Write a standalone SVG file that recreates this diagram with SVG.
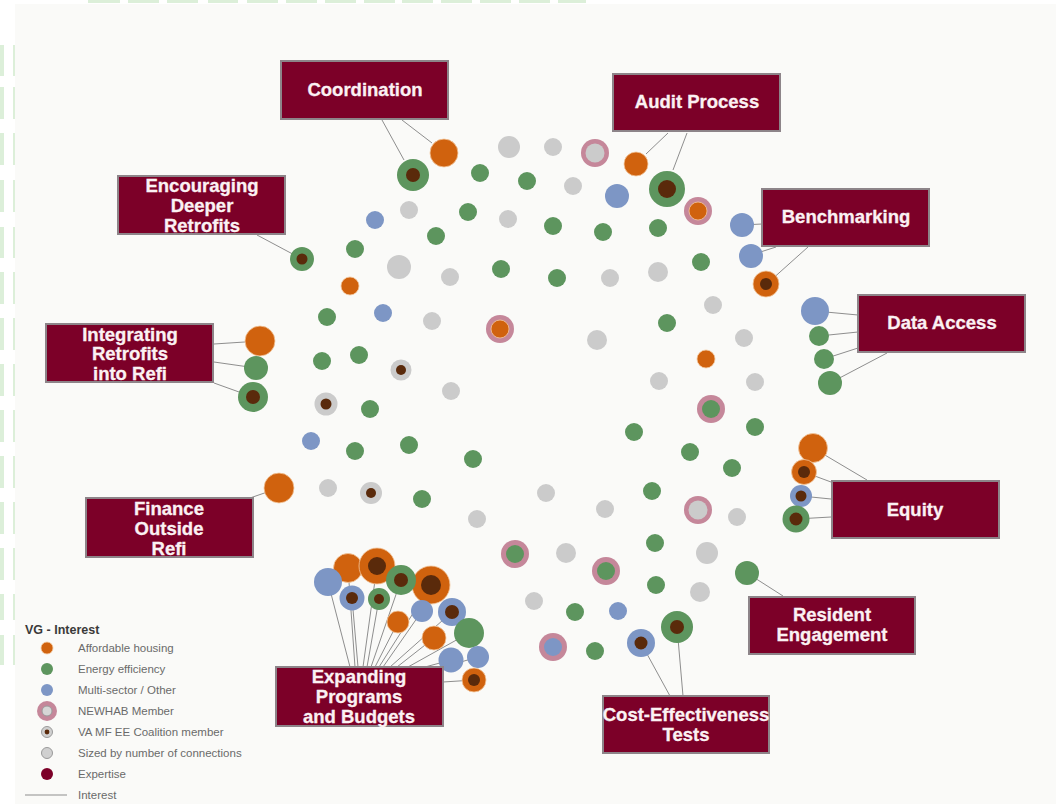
<svg xmlns="http://www.w3.org/2000/svg" width="1056" height="804" viewBox="0 0 1056 804">
<style>
.o{fill:#d0620e;stroke:#f3c79d;stroke-width:0.8}
.g{fill:#5d955e}
.b{fill:#7d96c5}
.y{fill:#cbcbcb}
.p{fill:#c5879a}
.d{fill:#5a2a0b}
.box{fill:#7c0028;stroke:#8d8489;stroke-width:2}
.lbl{font-family:"Liberation Sans",Arial,sans-serif;font-weight:bold;font-size:18.5px;fill:#fbf1f3;stroke:#fbf1f3;stroke-width:0.3;text-anchor:middle}
.ln{stroke:#8e8e8e;stroke-width:1;fill:none}
.lg{font-family:"Liberation Sans",Arial,sans-serif;font-size:11.5px;fill:#6a6a6a}
.lgt{font-family:"Liberation Sans",Arial,sans-serif;font-size:12.5px;font-weight:bold;fill:#3a3a3a}
.dash{fill:#dcefd9}
</style>
<rect x="0" y="0" width="1056" height="804" fill="#ffffff"/>
<g id="frame">
<rect x="15" y="4" width="1041" height="800" fill="#fafaf8"/>
<g class="dash">
<rect x="88" y="0" width="32" height="3"/><rect x="128" y="0" width="31" height="3"/><rect x="167" y="0" width="31" height="3"/><rect x="208" y="0" width="30" height="3"/><rect x="247" y="0" width="31" height="3"/><rect x="286" y="0" width="31" height="3"/><rect x="325" y="0" width="31" height="3"/><rect x="364" y="0" width="31" height="3"/><rect x="402" y="0" width="31" height="3"/><rect x="441" y="0" width="31" height="3"/><rect x="480" y="0" width="31" height="3"/><rect x="519" y="0" width="31" height="3"/><rect x="558" y="0" width="28" height="3"/>
<rect x="0" y="45" width="4" height="31"/><rect x="0" y="87" width="4" height="32"/><rect x="0" y="133" width="4" height="32"/><rect x="0" y="180" width="4" height="32"/><rect x="0" y="227" width="4" height="31"/><rect x="0" y="272" width="4" height="32"/><rect x="0" y="318" width="4" height="32"/><rect x="0" y="364" width="4" height="32"/><rect x="0" y="410" width="4" height="32"/><rect x="0" y="456" width="4" height="32"/><rect x="0" y="502" width="4" height="32"/><rect x="0" y="548" width="4" height="32"/><rect x="0" y="594" width="4" height="26"/><rect x="0" y="635" width="4" height="30"/>
<rect x="13" y="45" width="2" height="31"/><rect x="13" y="87" width="2" height="32"/><rect x="13" y="133" width="2" height="32"/><rect x="13" y="180" width="2" height="32"/><rect x="13" y="227" width="2" height="31"/><rect x="13" y="272" width="2" height="32"/><rect x="13" y="318" width="2" height="32"/><rect x="13" y="364" width="2" height="32"/><rect x="13" y="410" width="2" height="32"/><rect x="13" y="456" width="2" height="32"/><rect x="13" y="502" width="2" height="32"/><rect x="13" y="548" width="2" height="32"/><rect x="13" y="594" width="2" height="26"/><rect x="13" y="635" width="2" height="30"/>
</g>
</g>
<g id="connectors" class="ln">
<line x1="404" y1="160" x2="382" y2="120"/>
<line x1="432" y1="143" x2="402" y2="120"/>
<line x1="646" y1="154" x2="668" y2="133"/>
<line x1="673" y1="170" x2="687" y2="133"/>
<line x1="742" y1="225" x2="762" y2="224"/>
<line x1="751" y1="255" x2="776" y2="247"/>
<line x1="770" y1="281" x2="808" y2="247"/>
<line x1="815" y1="311" x2="858" y2="315"/>
<line x1="819" y1="336" x2="858" y2="332"/>
<line x1="824" y1="359" x2="858" y2="348"/>
<line x1="830" y1="383" x2="887" y2="353"/>
<line x1="813" y1="448" x2="867" y2="480"/>
<line x1="804" y1="472" x2="831" y2="482"/>
<line x1="801" y1="496" x2="831" y2="499"/>
<line x1="796" y1="519" x2="831" y2="517"/>
<line x1="747" y1="573" x2="783" y2="596"/>
<line x1="641" y1="643" x2="670" y2="696"/>
<line x1="677" y1="627" x2="683" y2="696"/>
<line x1="302" y1="259" x2="257" y2="235"/>
<line x1="260" y1="341" x2="214" y2="344"/>
<line x1="256" y1="368" x2="214" y2="362"/>
<line x1="253" y1="397" x2="214" y2="383"/>
<line x1="279" y1="488" x2="247" y2="499"/>
<line x1="328" y1="582" x2="350" y2="667"/>
<line x1="348" y1="568" x2="355" y2="667"/>
<line x1="352" y1="598" x2="358" y2="667"/>
<line x1="377" y1="566" x2="363" y2="667"/>
<line x1="379" y1="599" x2="367" y2="667"/>
<line x1="401" y1="580" x2="371" y2="667"/>
<line x1="398" y1="622" x2="375" y2="667"/>
<line x1="431" y1="585" x2="379" y2="667"/>
<line x1="422" y1="611" x2="383" y2="667"/>
<line x1="452" y1="612" x2="390" y2="667"/>
<line x1="434" y1="638" x2="397" y2="667"/>
<line x1="469" y1="633" x2="408" y2="667"/>
<line x1="451" y1="660" x2="425" y2="667"/>
<line x1="478" y1="657" x2="440" y2="668"/>
<line x1="474" y1="680" x2="443" y2="682"/>
</g>
<g id="nodes">
<g id="n1"><circle class="o" cx="444" cy="153" r="14"/></g>
<g id="n2"><circle class="g" cx="413" cy="175" r="16"/><circle class="d" cx="413" cy="175" r="7"/></g>
<g id="n3"><circle class="y" cx="509" cy="147" r="11"/></g>
<g id="n4"><circle class="y" cx="553" cy="147" r="9"/></g>
<g id="n5"><circle class="p" cx="595" cy="153" r="14"/><circle class="y" cx="595" cy="153" r="9.5"/></g>
<g id="n6"><circle class="o" cx="636" cy="164" r="12"/></g>
<g id="n7"><circle class="g" cx="480" cy="173" r="9"/></g>
<g id="n8"><circle class="g" cx="527" cy="181" r="9"/></g>
<g id="n9"><circle class="y" cx="573" cy="186" r="9"/></g>
<g id="n10"><circle class="b" cx="617" cy="196" r="12"/></g>
<g id="n11"><circle class="g" cx="667" cy="189" r="18"/><circle class="d" cx="667" cy="189" r="9"/></g>
<g id="n12"><circle class="p" cx="698" cy="211" r="14"/><circle class="o" cx="698" cy="211" r="9" stroke="none"/></g>
<g id="n13"><circle class="y" cx="409" cy="210" r="9"/></g>
<g id="n14"><circle class="b" cx="375" cy="220" r="9"/></g>
<g id="n15"><circle class="g" cx="468" cy="212" r="9"/></g>
<g id="n16"><circle class="y" cx="508" cy="219" r="9"/></g>
<g id="n17"><circle class="g" cx="553" cy="226" r="9"/></g>
<g id="n18"><circle class="g" cx="603" cy="232" r="9"/></g>
<g id="n19"><circle class="g" cx="658" cy="228" r="9"/></g>
<g id="n20"><circle class="g" cx="436" cy="236" r="9"/></g>
<g id="n21"><circle class="b" cx="742" cy="225" r="12"/></g>
<g id="n22"><circle class="b" cx="751" cy="256" r="12"/></g>
<g id="n23"><circle class="g" cx="701" cy="262" r="9"/></g>
<g id="n24"><circle class="o" cx="766" cy="284" r="13"/><circle class="d" cx="766" cy="284" r="6"/></g>
<g id="n25"><circle class="g" cx="302" cy="259" r="12"/><circle class="d" cx="302" cy="259" r="5.5"/></g>
<g id="n26"><circle class="g" cx="355" cy="249" r="9"/></g>
<g id="n27"><circle class="y" cx="399" cy="267" r="12"/></g>
<g id="n28"><circle class="y" cx="450" cy="277" r="9"/></g>
<g id="n29"><circle class="g" cx="501" cy="269" r="9"/></g>
<g id="n30"><circle class="g" cx="557" cy="278" r="9"/></g>
<g id="n31"><circle class="y" cx="610" cy="278" r="9"/></g>
<g id="n32"><circle class="y" cx="658" cy="272" r="10"/></g>
<g id="n33"><circle class="o" cx="350" cy="286" r="9"/></g>
<g id="n34"><circle class="y" cx="713" cy="305" r="9"/></g>
<g id="n35"><circle class="g" cx="327" cy="317" r="9"/></g>
<g id="n36"><circle class="b" cx="383" cy="313" r="9"/></g>
<g id="n37"><circle class="y" cx="432" cy="321" r="9"/></g>
<g id="n38"><circle class="p" cx="500" cy="329" r="14"/><circle class="o" cx="500" cy="329" r="9" stroke="none"/></g>
<g id="n39"><circle class="g" cx="667" cy="323" r="9"/></g>
<g id="n40"><circle class="y" cx="597" cy="340" r="10"/></g>
<g id="n41"><circle class="y" cx="744" cy="338" r="9"/></g>
<g id="n42"><circle class="b" cx="815" cy="311" r="14"/></g>
<g id="n43"><circle class="g" cx="819" cy="336" r="10"/></g>
<g id="n44"><circle class="g" cx="824" cy="359" r="10"/></g>
<g id="n45"><circle class="g" cx="830" cy="383" r="12"/></g>
<g id="n46"><circle class="o" cx="260" cy="341" r="15"/></g>
<g id="n47"><circle class="g" cx="256" cy="368" r="12"/></g>
<g id="n48"><circle class="g" cx="253" cy="397" r="15"/><circle class="d" cx="253" cy="397" r="7"/></g>
<g id="n49"><circle class="g" cx="322" cy="361" r="9"/></g>
<g id="n50"><circle class="g" cx="359" cy="355" r="9"/></g>
<g id="n51"><circle class="y" cx="401" cy="370" r="10.5"/><circle class="d" cx="401" cy="370" r="5"/></g>
<g id="n52"><circle class="y" cx="451" cy="391" r="9"/></g>
<g id="n53"><circle class="o" cx="706" cy="359" r="9"/></g>
<g id="n54"><circle class="y" cx="659" cy="381" r="9"/></g>
<g id="n55"><circle class="y" cx="755" cy="382" r="9"/></g>
<g id="n56"><circle class="p" cx="711" cy="409" r="14"/><circle class="g" cx="711" cy="409" r="9"/></g>
<g id="n57"><circle class="g" cx="755" cy="427" r="9"/></g>
<g id="n58"><circle class="g" cx="634" cy="432" r="9"/></g>
<g id="n59"><circle class="g" cx="690" cy="452" r="9"/></g>
<g id="n60"><circle class="g" cx="732" cy="468" r="9"/></g>
<g id="n61"><circle class="y" cx="326" cy="404" r="11.5"/><circle class="d" cx="326" cy="404" r="5.5"/></g>
<g id="n62"><circle class="g" cx="370" cy="409" r="9"/></g>
<g id="n63"><circle class="b" cx="311" cy="441" r="9"/></g>
<g id="n64"><circle class="g" cx="355" cy="451" r="9"/></g>
<g id="n65"><circle class="g" cx="409" cy="445" r="9"/></g>
<g id="n66"><circle class="g" cx="473" cy="459" r="9"/></g>
<g id="n67"><circle class="o" cx="279" cy="488" r="15"/></g>
<g id="n68"><circle class="y" cx="328" cy="488" r="9"/></g>
<g id="n69"><circle class="y" cx="371" cy="493" r="11"/><circle class="d" cx="371" cy="493" r="5"/></g>
<g id="n70"><circle class="g" cx="422" cy="499" r="9"/></g>
<g id="n71"><circle class="y" cx="477" cy="519" r="9"/></g>
<g id="n72"><circle class="y" cx="546" cy="493" r="9"/></g>
<g id="n73"><circle class="y" cx="605" cy="509" r="9"/></g>
<g id="n74"><circle class="g" cx="652" cy="491" r="9"/></g>
<g id="n75"><circle class="p" cx="698" cy="510" r="14"/><circle class="y" cx="698" cy="510" r="9.5"/></g>
<g id="n76"><circle class="y" cx="737" cy="517" r="9"/></g>
<g id="n77"><circle class="o" cx="813" cy="448" r="14.5"/></g>
<g id="n78"><circle class="o" cx="804" cy="472" r="12.5"/><circle class="d" cx="804" cy="472" r="6"/></g>
<g id="n79"><circle class="b" cx="801" cy="496" r="11"/><circle class="d" cx="801" cy="496" r="5.5"/></g>
<g id="n80"><circle class="g" cx="796" cy="519" r="13.5"/><circle class="d" cx="796" cy="519" r="6.5"/></g>
<g id="n81"><circle class="g" cx="655" cy="543" r="9"/></g>
<g id="n82"><circle class="p" cx="515" cy="554" r="14"/><circle class="g" cx="515" cy="554" r="9"/></g>
<g id="n83"><circle class="y" cx="566" cy="553" r="10"/></g>
<g id="n84"><circle class="y" cx="707" cy="553" r="11"/></g>
<g id="n85"><circle class="p" cx="606" cy="571" r="14"/><circle class="g" cx="606" cy="571" r="9"/></g>
<g id="n86"><circle class="g" cx="656" cy="585" r="9"/></g>
<g id="n87"><circle class="y" cx="700" cy="592" r="10"/></g>
<g id="n88"><circle class="g" cx="747" cy="573" r="12"/></g>
<g id="n89"><circle class="y" cx="534" cy="601" r="9"/></g>
<g id="n90"><circle class="g" cx="575" cy="612" r="9"/></g>
<g id="n91"><circle class="b" cx="618" cy="611" r="9"/></g>
<g id="n92"><circle class="g" cx="677" cy="627" r="16"/><circle class="d" cx="677" cy="627" r="7"/></g>
<g id="n93"><circle class="p" cx="553" cy="647" r="14"/><circle class="b" cx="553" cy="647" r="9"/></g>
<g id="n94"><circle class="g" cx="595" cy="651" r="9"/></g>
<g id="n95"><circle class="b" cx="641" cy="643" r="14"/><circle class="d" cx="641" cy="643" r="6.5"/></g>
<g id="n96"><circle class="o" cx="348" cy="568" r="14.5"/></g>
<g id="n97"><circle class="b" cx="328" cy="582" r="14"/></g>
<g id="n98"><circle class="o" cx="377" cy="566" r="18"/><circle class="d" cx="377" cy="566" r="9"/></g>
<g id="n100"><circle class="o" cx="431" cy="585" r="19"/><circle class="d" cx="431" cy="585" r="10"/></g>
<g id="n99"><circle class="g" cx="401" cy="580" r="15"/><circle class="d" cx="401" cy="580" r="7"/></g>
<g id="n101"><circle class="b" cx="352" cy="598" r="12.5"/><circle class="d" cx="352" cy="598" r="6"/></g>
<g id="n102"><circle class="g" cx="379" cy="599" r="11"/><circle class="d" cx="379" cy="599" r="5"/></g>
<g id="n103"><circle class="b" cx="422" cy="611" r="11"/></g>
<g id="n104"><circle class="b" cx="452" cy="612" r="14"/><circle class="d" cx="452" cy="612" r="7"/></g>
<g id="n105"><circle class="o" cx="398" cy="622" r="11"/></g>
<g id="n106"><circle class="o" cx="434" cy="638" r="12"/></g>
<g id="n107"><circle class="g" cx="469" cy="633" r="15"/></g>
<g id="n108"><circle class="b" cx="451" cy="660" r="12.5"/></g>
<g id="n109"><circle class="b" cx="478" cy="657" r="11"/></g>
<g id="n110"><circle class="o" cx="474" cy="680" r="12"/><circle class="d" cx="474" cy="680" r="6"/></g>
</g>
<g id="label-coordination"><rect class="box" x="281" y="61" width="167" height="58"/><text class="lbl" x="365" y="96">Coordination</text></g>
<g id="label-audit"><rect class="box" x="613" y="74" width="167" height="57"/><text class="lbl" x="697" y="108">Audit Process</text></g>
<g id="label-benchmarking"><rect class="box" x="762" y="189" width="167" height="57"/><text class="lbl" x="846" y="223">Benchmarking</text></g>
<g id="label-data"><rect class="box" x="858" y="295" width="167" height="57"/><text class="lbl" x="942" y="329">Data Access</text></g>
<g id="label-equity"><rect class="box" x="832" y="481" width="167" height="57"/><text class="lbl" x="915" y="516">Equity</text></g>
<g id="label-resident"><rect class="box" x="749" y="597" width="166" height="57"/><text class="lbl" x="832" y="621">Resident</text><text class="lbl" x="832" y="641">Engagement</text></g>
<g id="label-cost"><rect class="box" x="603" y="696" width="166" height="57"/><text class="lbl" x="686" y="721">Cost-Effectiveness</text><text class="lbl" x="686" y="741">Tests</text></g>
<g id="label-expanding"><rect class="box" x="276" y="667" width="167" height="59"/><text class="lbl" x="359" y="683">Expanding</text><text class="lbl" x="359" y="703">Programs</text><text class="lbl" x="359" y="723">and Budgets</text></g>
<g id="label-finance"><rect class="box" x="86" y="498" width="167" height="59"/><text class="lbl" x="169" y="515">Finance</text><text class="lbl" x="169" y="535">Outside</text><text class="lbl" x="169" y="555">Refi</text></g>
<g id="label-integrating"><rect class="box" x="46" y="324" width="167" height="58"/><text class="lbl" x="130" y="341">Integrating</text><text class="lbl" x="130" y="360">Retrofits</text><text class="lbl" x="130" y="380">into Refi</text></g>
<g id="label-encouraging"><rect class="box" x="118" y="176" width="167" height="58"/><text class="lbl" x="202" y="192">Encouraging</text><text class="lbl" x="202" y="212">Deeper</text><text class="lbl" x="202" y="232">Retrofits</text></g>
<g id="legend">
<text class="lgt" x="25" y="634">VG - Interest</text>
<circle class="o" cx="47" cy="648" r="6"/><text class="lg" x="78" y="652">Affordable housing</text>
<circle class="g" cx="47" cy="669" r="6"/><text class="lg" x="78" y="673">Energy efficiency</text>
<circle class="b" cx="47" cy="690" r="6"/><text class="lg" x="78" y="694">Multi-sector / Other</text>
<circle class="p" cx="47" cy="711" r="10"/><circle cx="47" cy="711" r="5" fill="#d6d6d6" stroke="#9a9a9a" stroke-width="1"/><text class="lg" x="78" y="715">NEWHAB Member</text>
<circle cx="47" cy="732" r="5.5" fill="#d0d0d0" stroke="#9a9a9a" stroke-width="1"/><circle class="d" cx="47" cy="732" r="2.4"/><text class="lg" x="78" y="736">VA MF EE Coalition member</text>
<circle cx="47" cy="753" r="5.5" fill="#d0d0d0" stroke="#9a9a9a" stroke-width="1"/><text class="lg" x="78" y="757">Sized by number of connections</text>
<circle cx="47" cy="774" r="6" fill="#7c0028"/><text class="lg" x="78" y="778">Expertise</text>
<line x1="25" y1="795" x2="67" y2="795" stroke="#8e8e8e" stroke-width="1"/><text class="lg" x="78" y="799">Interest</text>
</g>
</svg>
